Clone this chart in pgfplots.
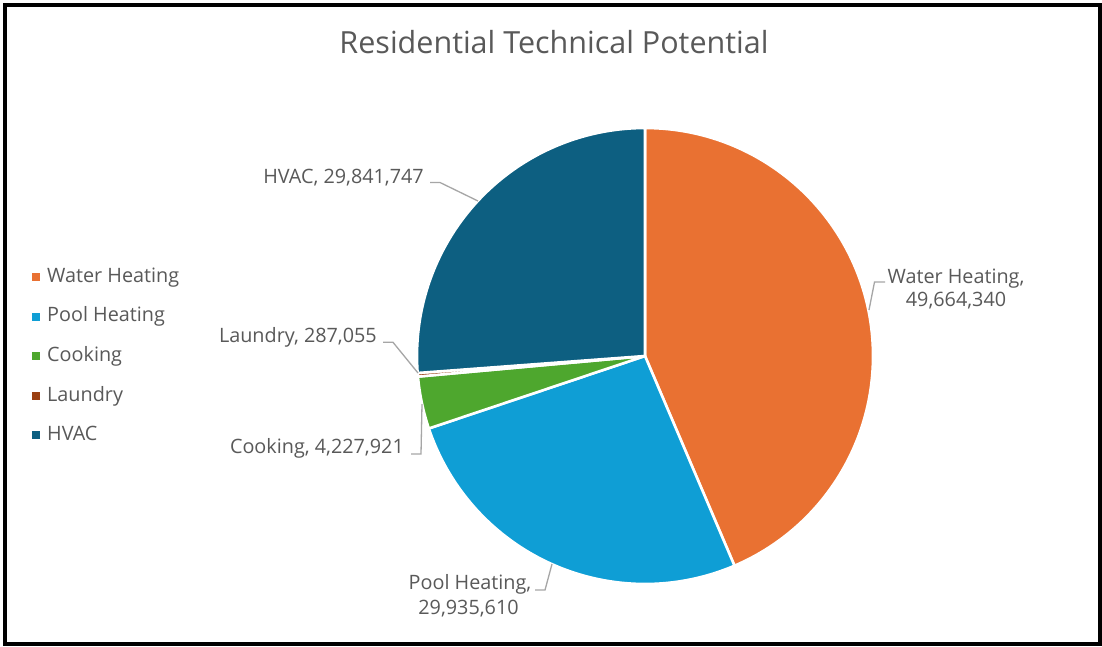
\documentclass[border=0pt]{standalone}
\usepackage{pgfplots}
\pgfplotsset{compat=1.18}
\usepackage{fontspec}
\setmainfont{Open Sans}
\definecolor{txt}{HTML}{595959}
\definecolor{lead}{HTML}{A6A6A6}
\definecolor{cWH}{HTML}{E97132}
\definecolor{cPH}{HTML}{0F9ED5}
\definecolor{cCK}{HTML}{4EA72E}
\definecolor{cLA}{HTML}{9A3F12}
\definecolor{cHV}{HTML}{0D5F81}
% data values
\def\vWH{49664340}
\def\vPH{29935610}
\def\vCK{4227921}
\def\vLA{287055}
\def\vHV{29841747}
\edef\tot{\fpeval{\vWH+\vPH+\vCK+\vLA+\vHV}}
\edef\aA{90}
\edef\aB{\fpeval{\aA-360*\vWH/\tot}}
\edef\aC{\fpeval{\aB-360*\vPH/\tot}}
\edef\aD{\fpeval{\aC-360*\vCK/\tot}}
\edef\aE{\fpeval{\aD-360*\vLA/\tot}}
\edef\aF{\fpeval{\aE-360*\vHV/\tot}}
\def\R{228pt}
\begin{document}
\begin{tikzpicture}
\begin{axis}[hide axis, scale only axis, width=1102pt, height=646pt,
  xmin=0, xmax=1102, ymin=0, ymax=646, y dir=reverse, clip=false]
% background and frame
\fill[white] (axis cs:0,0) rectangle (axis cs:1102,646);
\draw[black, line width=4.6pt] (axis cs:5,5) rectangle (axis cs:1100.5,644);
% title
\node[text=txt, font=\fontsize{30.5}{34}\selectfont, anchor=base, inner sep=0pt] at (axis cs:554,53.3) {Residential Technical Potential};
% pie wedges
\filldraw[fill=cWH, draw=white, line width=2.6pt, line join=round] (axis cs:645,356) -- ++(\aA:\R) arc[start angle=\aA, end angle=\aB, radius=\R] -- cycle;
\filldraw[fill=cPH, draw=white, line width=2.6pt, line join=round] (axis cs:645,356) -- ++(\aB:\R) arc[start angle=\aB, end angle=\aC, radius=\R] -- cycle;
\filldraw[fill=cCK, draw=white, line width=2.6pt, line join=round] (axis cs:645,356) -- ++(\aC:\R) arc[start angle=\aC, end angle=\aD, radius=\R] -- cycle;
\filldraw[fill=cLA, draw=white, line width=2.6pt, line join=round] (axis cs:645,356) -- ++(\aD:\R) arc[start angle=\aD, end angle=\aE, radius=\R] -- cycle;
\filldraw[fill=cHV, draw=white, line width=2.6pt, line join=round] (axis cs:645,356) -- ++(\aE:\R) arc[start angle=\aE, end angle=\aF, radius=\R] -- cycle;
% leader lines
\draw[lead, line width=1.3pt] (axis cs:430,182.5) -- (axis cs:440,182.5) -- (axis cs:478,201);
\draw[lead, line width=1.3pt] (axis cs:869,310) -- (axis cs:874.5,282) -- (axis cs:885,282);
\draw[lead, line width=1.3pt] (axis cs:383,342.3) -- (axis cs:393,342.3) -- (axis cs:418,373);
\draw[lead, line width=1.3pt] (axis cs:411,454) -- (axis cs:421,454) -- (axis cs:422,404);
\draw[lead, line width=1.3pt] (axis cs:535,590) -- (axis cs:545,590) -- (axis cs:552,564);
% data labels
\begin{scope}[every node/.style={text=txt, font=\fontsize{19.8}{23}\selectfont, inner sep=0pt}]
\node[anchor=base east] at (axis cs:424,183.3) {HVAC, 29,841,747};
\node[anchor=base] at (axis cs:956,283.3) {Water Heating,};
\node[anchor=base] at (axis cs:956,306) {49,664,340};
\node[anchor=base east] at (axis cs:377,342.3) {Laundry, 287,055};
\node[anchor=base east] at (axis cs:404,453.3) {Cooking, 4,227,921};
\node[anchor=base] at (axis cs:470,589.3) {Pool Heating,};
\node[anchor=base] at (axis cs:468.5,614) {29,935,610};
% legend
\fill[cWH] (axis cs:32,273) rectangle (axis cs:40,281);
\fill[cPH] (axis cs:32,312.5) rectangle (axis cs:40,320.5);
\fill[cCK] (axis cs:32,352) rectangle (axis cs:40,360);
\fill[cLA] (axis cs:32,391.5) rectangle (axis cs:40,399.5);
\fill[cHV] (axis cs:32,431) rectangle (axis cs:40,439);
\node[anchor=base west] at (axis cs:47,282.7) {Water Heating};
\node[anchor=base west] at (axis cs:47,321.7) {Pool Heating};
\node[anchor=base west] at (axis cs:47,361) {Cooking};
\node[anchor=base west] at (axis cs:47,401.7) {Laundry};
\node[anchor=base west] at (axis cs:47,440.7) {HVAC};
\end{scope}
\end{axis}
\pgfresetboundingbox
\useasboundingbox (current axis.south west) rectangle (current axis.north east);
\end{tikzpicture}
\end{document}
